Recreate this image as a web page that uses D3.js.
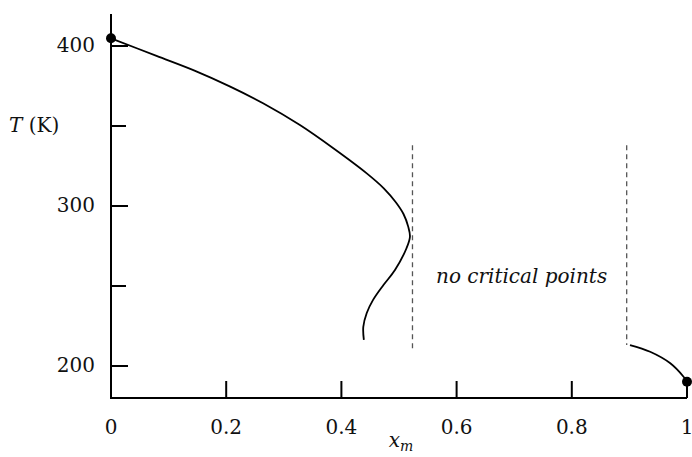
<!DOCTYPE html>
<html><head><meta charset="utf-8">
<script src="https://cdn.jsdelivr.net/npm/d3@7"></script>
<style>
html,body{margin:0;padding:0;background:#fff;}
</style></head>
<body>
<svg id="chart" width="692" height="457"></svg>
<script>
// Data
const xTicks = [0, 0.2, 0.4, 0.6, 0.8, 1];
const xTickLabels = ["0", "0.2", "0.4", "0.6", "0.8", "1"];
const yTicksMajor = [200, 300, 400];
const yTicksMinor = [250, 350];
const mainCurveX = [0, 0.079, 0.145, 0.207, 0.264, 0.328, 0.386, 0.444, 0.474, 0.4948, 0.5078, 0.516, 0.519, 0.513, 0.493, 0.473, 0.455, 0.444, 0.438, 0.439];
const mainCurveT = [404.8, 393.8, 384.6, 374.6, 364.2, 350.6, 336.1, 320.4, 310.9, 302.2, 295.0, 287.1, 280.8, 273.6, 260.0, 250.6, 241.3, 233.1, 224.4, 216.3];
const rightCurveX = [0.901, 0.936, 0.971, 0.994, 1.0];
const rightCurveT = [213.1, 208.9, 201.7, 193.3, 190.2];
const dotX = [0, 1];
const dotT = [404.8, 190.2];
const dashX = [0.5234, 0.8953];
const dashTop = [338, 338];
const dashBottom = [208.8, 213.1];
const regionLabel = "no critical points";
const yLabel = "T";
const yUnit = " (K)";

const FONT = "DejaVu Serif";
const FS = 20;
const svg = d3.select("#chart");
const x = d3.scaleLinear().domain([0, 1]).range([111, 687]);
const y = d3.scaleLinear().domain([180, 420]).range([398, 14]);

function txt(sel) { return sel.style("font-family", FONT).attr("fill", "#111"); }

// axes
svg.append("line").attr("x1", x(0)).attr("x2", x(0)).attr("y1", y(420)).attr("y2", y(180))
  .attr("stroke", "#000").attr("stroke-width", 2);
svg.append("line").attr("x1", x(0) - 1).attr("x2", x(1)).attr("y1", y(180)).attr("y2", y(180))
  .attr("stroke", "#000").attr("stroke-width", 2);

// x ticks
svg.selectAll(".xt").data(xTicks).enter().append("line")
  .attr("x1", d => x(d)).attr("x2", d => x(d)).attr("y1", y(180)).attr("y2", y(180) - 17)
  .attr("stroke", "#000").attr("stroke-width", 2);
txt(svg.selectAll(".xl").data(xTicks).enter().append("text"))
  .attr("x", d => x(d)).attr("y", 434).attr("text-anchor", "middle")
  .attr("font-size", FS).text((d, i) => xTickLabels[i]);

// y ticks
svg.selectAll(".ytM").data(yTicksMajor).enter().append("line")
  .attr("x1", x(0)).attr("x2", x(0) + 17).attr("y1", d => y(d)).attr("y2", d => y(d))
  .attr("stroke", "#000").attr("stroke-width", 2);
svg.selectAll(".ytm").data(yTicksMinor).enter().append("line")
  .attr("x1", x(0)).attr("x2", x(0) + 15).attr("y1", d => y(d)).attr("y2", d => y(d))
  .attr("stroke", "#000").attr("stroke-width", 2);
txt(svg.selectAll(".yl").data(yTicksMajor).enter().append("text"))
  .attr("x", 95).attr("y", d => y(d) + 6).attr("text-anchor", "end")
  .attr("font-size", FS).text(d => d);

// axis titles
const yt = txt(svg.append("text")).attr("x", 9).attr("y", 132).attr("font-size", FS);
yt.append("tspan").attr("font-style", "italic").text(yLabel);
yt.append("tspan").text(yUnit);
const xt = txt(svg.append("text")).attr("x", 401).attr("y", 447).attr("text-anchor", "middle").attr("font-size", FS);
xt.append("tspan").attr("font-style", "italic").text("x");
xt.append("tspan").attr("font-style", "italic").attr("font-size", 14).attr("dy", 4).text("m");

// dashed boundaries
svg.selectAll(".dash").data(dashX).enter().append("line")
  .attr("x1", d => x(d)).attr("x2", d => x(d))
  .attr("y1", (d, i) => y(dashTop[i])).attr("y2", (d, i) => y(dashBottom[i]))
  .attr("stroke", "#555").attr("stroke-width", 1.3).attr("stroke-dasharray", "5,4");

// curves
const line = d3.line().x(d => x(d[0])).y(d => y(d[1])).curve(d3.curveCatmullRom.alpha(0.5));
svg.append("path").datum(d3.zip(mainCurveX, mainCurveT)).attr("d", line)
  .attr("fill", "none").attr("stroke", "#000").attr("stroke-width", 1.8);
svg.append("path").datum(d3.zip(rightCurveX, rightCurveT)).attr("d", line)
  .attr("fill", "none").attr("stroke", "#000").attr("stroke-width", 1.8);

// dots
svg.selectAll(".dot").data(dotX).enter().append("circle")
  .attr("cx", d => x(d)).attr("cy", (d, i) => y(dotT[i])).attr("r", 5).attr("fill", "#000");

// region label
txt(svg.append("text")).attr("x", 436).attr("y", 283).attr("font-size", FS).attr("font-style", "italic")
  .text(regionLabel);
</script>
</body></html>
